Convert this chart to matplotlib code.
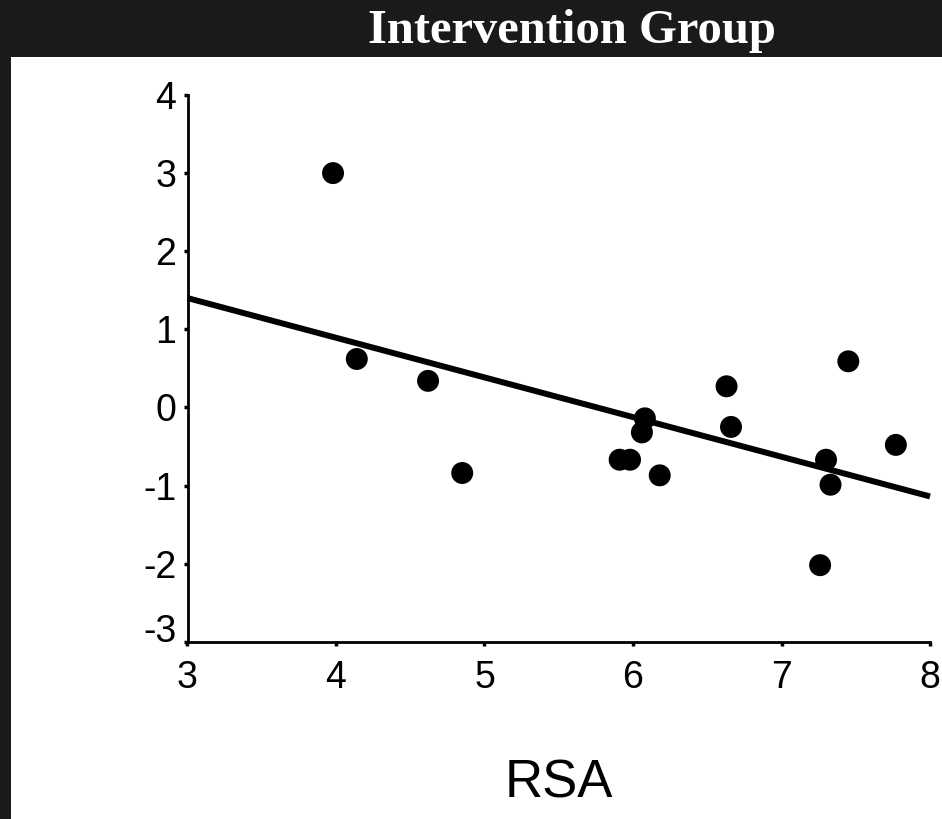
import matplotlib
matplotlib.use("Agg")
import matplotlib.pyplot as plt
import matplotlib.transforms as mtransforms
from matplotlib.patches import Rectangle

# scatter values
rsa = [3.98, 4.14, 4.62, 4.85, 5.91, 5.98, 6.08, 6.06, 6.18, 6.63, 6.66,
       7.30, 7.33, 7.26, 7.45, 7.77]
score = [3.00, 0.62, 0.34, -0.84, -0.67, -0.67, -0.14, -0.32, -0.87, 0.27, -0.25,
         -0.67, -0.99, -2.02, 0.59, -0.48]

# regression line end points
fit_x = [3, 8]
fit_y = [1.40, -1.14]

x_ticks = [3, 4, 5, 6, 7, 8]
y_ticks = [-3, -2, -1, 0, 1, 2, 3, 4]
y_ticklabels = ["-3", "-2", "-1", "0", "1", "2", "3", "4"]

W, H = 942, 819
fig = plt.figure(figsize=(W / 100, H / 100), dpi=100)
fig.patch.set_facecolor("#1a1a1a")

# white panel below the title band
fig.patches.append(Rectangle((11 / W, 0), 1 - 11 / W, 1 - 57 / H,
                             transform=fig.transFigure, facecolor="white",
                             edgecolor="none", zorder=-5))

fig.text(572 / W, 1 - 43 / H, "Intervention Group", color="white",
         family="Liberation Serif", weight="bold", fontsize=35,
         ha="center", va="baseline")

ax = fig.add_axes([187.5 / W, 1 - 641.7 / H, (930 - 187.5) / W, (641.7 - 95) / H])
ax.set_facecolor("none")

ax.plot(fit_x, fit_y, color="black", lw=4.3, solid_capstyle="butt", clip_on=False)
ax.scatter(rsa, score, s=250, color="black", edgecolors="none", zorder=3, clip_on=False)

ax.set_xlim(3, 8)
ax.set_ylim(-3, 4)
ax.set_xticks(x_ticks)
ax.set_yticks(y_ticks)
ax.set_yticklabels(y_ticklabels)

for side in ["top", "right"]:
    ax.spines[side].set_visible(False)
for side in ["left", "bottom"]:
    ax.spines[side].set_linewidth(2)

ax.tick_params(direction="out", length=3, width=2.5, labelsize=27, pad=5)
ax.tick_params(axis="x", pad=10)
for lab in ax.get_xticklabels() + ax.get_yticklabels():
    lab.set_family("Liberation Sans")

# the lowest y label sits a little above its tick in the original
low = ax.get_yticklabels()[0]
low.set_transform(low.get_transform() + mtransforms.ScaledTranslation(0, 14 / 100, fig.dpi_scale_trans))

ax.set_xlabel("RSA", fontsize=38, family="Liberation Sans", labelpad=45)

fig.savefig("out.png", dpi=100, facecolor=fig.get_facecolor())
